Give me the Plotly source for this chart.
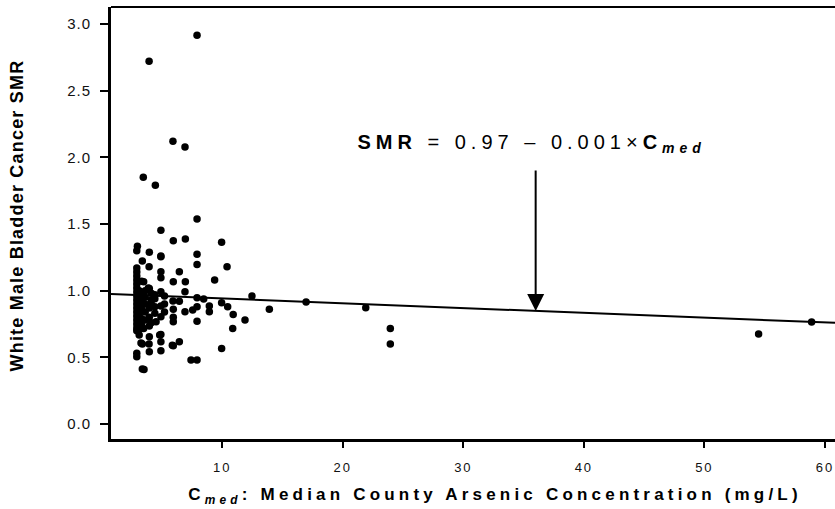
import plotly.graph_objects as go

# ---- data ----
cmed = [
    7.9, 3.92, 5.9, 6.9, 3.44, 4.44,
    7.9, 4.9, 2.95, 2.9, 5.93, 6.93, 9.94, 3.94, 7.9, 4.9, 3.36, 3.92, 7.9, 10.39,
    2.9, 4.9, 6.43, 4.9, 9.36, 5.93, 6.93, 3.47, 3.94, 6.9, 4.9, 12.46, 7.9, 8.45,
    5.9, 6.43, 9.94, 8.92, 10.44, 7.9, 4.9, 3.94, 5.93, 6.9, 7.54, 8.92, 10.9, 4.9,
    5.93, 3.94, 5.93, 7.9, 11.88, 4.5, 3.94, 10.86, 3.47, 3.94, 4.9, 4.9, 6.43, 5.93,
    3.36, 3.92, 3.94, 4.9, 9.94, 2.9, 2.9, 7.4, 7.9, 3.36, 3.5,
    13.9, 16.95, 21.9, 23.94, 23.94, 54.5, 58.9,
    2.9, 2.9, 2.9, 2.9, 2.9, 2.9, 2.9, 2.9, 2.9, 2.9, 2.9, 2.9, 2.9, 2.9, 2.9, 2.9,
    3.1, 3.1, 3.1, 3.1, 3.1, 3.1,
    3.3, 3.3, 3.3, 3.3, 3.3, 3.3,
    3.6, 3.6, 3.6, 3.6, 3.6,
    4.1, 4.1, 4.1, 4.1,
    4.4, 4.4, 4.4, 4.4,
    5.2, 5.2, 5.2,
    3.1, 4.8, 5.85, 3.25, 3.86, 4.9,
]
smr = [
    2.916, 2.72, 2.12, 2.077, 1.85, 1.79,
    1.537, 1.454, 1.334, 1.30, 1.374, 1.387, 1.364, 1.289, 1.274, 1.254, 1.222, 1.18, 1.197, 1.18,
    1.17, 1.142, 1.142, 1.097, 1.08, 1.067, 1.067, 1.067, 1.017, 0.992, 0.992, 0.96, 0.947, 0.937,
    0.922, 0.92, 0.909, 0.885, 0.88, 0.88, 0.885, 0.87, 0.86, 0.842, 0.855, 0.842, 0.822, 0.805,
    0.80, 0.80, 0.767, 0.77, 0.78, 0.767, 0.735, 0.717, 0.717, 0.655, 0.672, 0.617, 0.617, 0.587,
    0.60, 0.60, 0.542, 0.55, 0.567, 0.53, 0.505, 0.48, 0.48, 0.412, 0.41,
    0.86, 0.915, 0.872, 0.717, 0.60, 0.675, 0.765,
    1.14, 1.11, 1.08, 1.05, 1.02, 0.99, 0.96, 0.93, 0.90, 0.87, 0.84, 0.81, 0.78, 0.75, 0.72, 0.70,
    1.0, 0.94, 0.88, 0.82, 0.76, 0.71,
    1.07, 0.97, 0.92, 0.86, 0.79, 0.74,
    1.0, 0.95, 0.90, 0.84, 0.78,
    0.98, 0.93, 0.90, 0.76,
    0.97, 0.94, 0.88, 0.83,
    0.96, 0.90, 0.84,
    0.667, 0.667, 0.59, 0.607, 1.02, 1.26,
]

# fitted line as drawn in the figure
fit_intercept = 0.978
fit_slope = -0.0036

x_range = [0.76, 60.84]
y_range = [-0.112, 3.127]

x_tick_vals = [10, 20, 30, 40, 50, 60]
x_tick_labels = ["10", "20", "30", "40", "50", "60"]
y_tick_vals = [0.0, 0.5, 1.0, 1.5, 2.0, 2.5, 3.0]
y_tick_labels = ["0.0", "0.5", "1.0", "1.5", "2.0", "2.5", "3.0"]

arrow_x = 36.0
label_y = 2.1

FONT = "Liberation Sans, Arial, sans-serif"

fig = go.Figure()
fig.add_trace(go.Scatter(
    x=x_range,
    y=[fit_intercept + fit_slope * v for v in x_range],
    mode="lines", line=dict(color="black", width=2), hoverinfo="skip",
))
fig.add_trace(go.Scatter(
    x=cmed, y=smr, mode="markers",
    marker=dict(color="black", size=7.5, line=dict(width=0)),
))

fig.update_layout(
    width=835, height=509,
    margin=dict(l=111, r=0, t=7, b=70),
    paper_bgcolor="white", plot_bgcolor="white",
    showlegend=False,
    font=dict(family=FONT, color="#111"),
    xaxis=dict(
        range=x_range, showgrid=False, zeroline=False, automargin=False,
        showline=True, linecolor="black", linewidth=3,
        ticks="outside", ticklen=6, tickwidth=2, tickcolor="black",
        tickvals=x_tick_vals, ticktext=x_tick_labels,
        tickfont=dict(size=13, color="#111"), ticklabelstandoff=8,
    ),
    yaxis=dict(
        range=y_range, showgrid=False, zeroline=False, automargin=False,
        showline=True, linecolor="black", linewidth=3,
        ticks="outside", ticklen=8, tickwidth=2, tickcolor="black",
        tickvals=y_tick_vals, ticktext=y_tick_labels,
        tickfont=dict(size=15, color="#111"), ticklabelstandoff=6,
    ),
    shapes=[dict(type="line", xref="paper", yref="paper", x0=0, x1=1, y0=1, y1=1,
                 line=dict(color="black", width=2))],
)

# axis titles
fig.add_annotation(
    xref="paper", yref="paper", x=0.53, y=-0.133, xanchor="center", yanchor="middle",
    text="<b>C<sub><i>med</i></sub>: Median County Arsenic Concentration (mg/L)</b>",
    showarrow=False, font=dict(size=17, color="black"),
)
fig.add_annotation(
    xref="paper", yref="paper", x=-0.13, y=0.518, xanchor="center", yanchor="middle",
    text="<b>White Male Bladder Cancer SMR</b>", textangle=-90,
    showarrow=False, font=dict(size=18, color="black"),
)

# equation label and arrow
fig.add_annotation(
    x=35.7, y=label_y, xanchor="center", yanchor="middle",
    text="<b>SMR</b> = 0.97 \u2013 0.001\u00d7<b>C</b><sub><b><i>med</i></b></sub>",
    showarrow=False, font=dict(size=20, color="black"),
)
fig.add_annotation(
    x=arrow_x, y=fit_intercept + fit_slope * arrow_x, text="",
    showarrow=True, ax=0, ay=-142, arrowhead=2, arrowsize=1.7, arrowwidth=2,
    arrowcolor="black",
)

css = (
    "document.body.style.margin='0';"
    "var s=document.createElement('style');"
    "s.textContent='body{margin:0}.xtick text{letter-spacing:2px}.ytick text{letter-spacing:1px}';"
    "document.head.appendChild(s);"
    "document.querySelectorAll('.annotation-text').forEach(function(e){"
    "var t=e.textContent;"
    "if(t.indexOf('Median')>=0){e.style.letterSpacing='4.2px';}"
    "else if(t.indexOf('White')>=0){e.style.letterSpacing='1.2px';}"
    "else if(t.indexOf('SMR')>=0){e.style.letterSpacing='5px';}"
    "});"
)
fig.write_html("out.html", post_script=css, config={"displayModeBar": False})
